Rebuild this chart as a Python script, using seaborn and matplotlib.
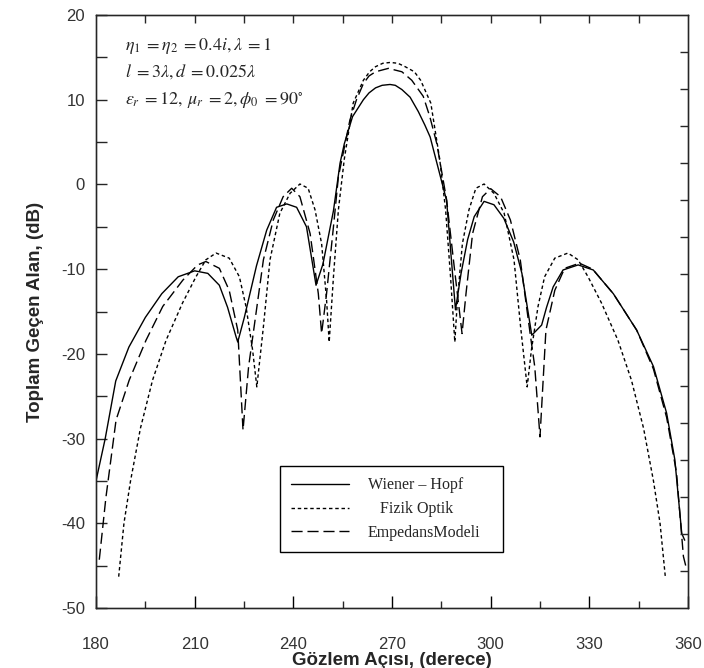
import numpy as np
import pandas as pd
import matplotlib
matplotlib.use("Agg")
import matplotlib.pyplot as plt
import seaborn as sns

# ---- data ----
wh_x = [180.0, 182.8, 186.0, 190.0, 195.0, 200.0, 205.0, 210.0, 214.0, 217.5, 220.0, 222.6, 223.1,
        225.1, 228.8, 231.9, 234.9, 238.0, 241.0, 244.0, 246.9, 249.0, 252.2, 254.2, 255.5, 258.0,
        261.3, 263.0, 265.0, 267.0, 269.4, 271.0, 273.0, 275.5, 278.0, 280.0, 281.6, 284.0, 286.6,
        289.3, 291.0, 293.0, 295.0,
        298.0, 301.0, 304.0, 307.0, 309.5, 312.5, 315.5, 317.0, 319.0, 322.0, 326.6, 331.2, 337.3,
        344.4, 349.5, 353.5, 356.0, 358.1, 359.0]
wh_y = [-35.0, -30.0, -23.2, -19.2, -15.7, -12.9, -10.9, -10.2, -10.5, -11.9, -14.5, -18.0, -18.6,
        -15.7, -9.6, -5.4, -2.7, -2.3, -2.7, -5.0, -11.9, -9.4, -3.1, 2.5, 4.8, 8.0,
        10.0, 10.8, 11.4, 11.7, 11.8, 11.7, 11.2, 10.3, 8.6, 7.0, 5.6, 2.0, -1.9,
        -14.8, -10.5, -6.5, -3.8,
        -2.0, -2.4, -4.0, -6.8, -10.5, -17.8, -16.6, -14.5, -12.1, -10.1, -9.5, -10.1, -12.9,
        -17.2, -21.5, -27.0, -32.5, -41.2, -42.0]

fo_x = [186.9, 188.5, 190.5, 193.5, 197.2, 201.3, 206.3, 210.4, 213.4, 216.5, 220.5, 223.6, 225.6,
        227.6, 228.9, 230.9, 232.9, 235.9, 239.0, 242.0, 244.5, 246.6, 248.6, 250.1, 250.9, 252.2,
        253.7, 255.5, 258.2, 261.3, 263.2, 265.0, 267.2, 269.5, 271.8, 274.0, 276.8, 278.7, 281.8,
        284.5, 286.3, 287.8, 289.1,
        289.9, 291.4, 293.4, 295.5, 298.0, 301.0, 304.1, 307.1, 309.1, 311.1, 312.4, 314.4, 316.4,
        319.5, 323.5, 326.6, 329.6, 333.7, 338.7, 342.8, 346.5, 349.5, 351.5, 353.1]
fo_y = [-46.3, -40.0, -35.0, -28.8, -23.1, -18.4, -14.0, -10.9, -8.9, -8.1, -8.7, -10.9, -14.4,
        -19.5, -23.9, -16.8, -8.9, -3.4, -1.05, 0.05, -0.45, -3.0, -7.0, -13.6, -18.6, -10.9,
        -3.0, 3.0, 9.6, 12.3, 13.3, 13.9, 14.3, 14.4, 14.3, 13.9, 13.3, 12.3, 9.6,
        3.0, -3.0, -10.9, -18.6,
        -13.6, -7.0, -3.0, -0.45, 0.05, -1.05, -3.4, -8.9, -16.8, -23.9, -19.5, -14.4, -10.9,
        -8.7, -8.1, -8.9, -10.9, -14.0, -18.4, -23.1, -28.8, -35.0, -40.0, -46.3]

em_x = [181.0, 183.0, 186.1, 190.1, 195.2, 200.3, 206.4, 210.9, 213.4, 217.5, 220.5, 223.1, 224.7,
        226.4, 227.8, 230.9, 233.9, 236.9, 239.5, 242.0, 245.1, 247.6, 248.6, 250.1, 252.2, 253.7,
        257.2, 259.2, 261.3, 263.0, 265.0, 268.9, 273.0, 276.0, 279.5, 281.5, 283.6, 286.6,
        289.0, 291.3, 292.5, 294.5, 297.5,
        300.0, 303.0, 306.0, 309.0, 312.0, 313.4, 315.0, 316.8, 319.5, 322.5, 327.0, 331.0, 337.3,
        344.4, 349.5, 353.5, 356.5, 358.6, 359.3]
em_y = [-44.3, -37.0, -27.8, -23.1, -18.4, -14.4, -11.3, -9.5, -9.1, -9.9, -12.5, -17.2, -29.0,
        -21.5, -17.6, -8.9, -4.2, -1.45, -0.45, -1.45, -5.8, -12.9, -17.6, -12.9, -5.0, 0.9,
        7.6, 10.0, 11.9, 12.8, 13.3, 13.7, 13.3, 12.3, 10.4, 8.0, 4.85, -1.8,
        -10.0, -17.6, -12.9, -5.8, -1.45,
        -0.5, -1.45, -4.2, -8.9, -17.6, -21.5, -29.8, -17.2, -12.5, -9.9, -9.3, -10.0, -12.9,
        -17.2, -21.8, -27.5, -34.0, -43.9, -45.0]

series_names = ["Wiener \u2013 Hopf", "   Fizik Optik", "EmpedansModeli"]
x_ticks = [180, 210, 240, 270, 300, 330, 360]
y_ticks = [-50, -40, -30, -20, -10, 0, 10, 20]

sns.set_style("ticks")
plt.rcParams["font.family"] = ["Liberation Sans", "DejaVu Sans"]
plt.rcParams["mathtext.fontset"] = "stix"
plt.rcParams["axes.unicode_minus"] = False

df = pd.concat([
    pd.DataFrame({"x": wh_x, "y": wh_y, "s": series_names[0]}),
    pd.DataFrame({"x": fo_x, "y": fo_y, "s": series_names[1]}),
    pd.DataFrame({"x": em_x, "y": em_y, "s": series_names[2]}),
])

fig = plt.figure(figsize=(7.04, 6.68), dpi=100)
ax = fig.add_axes([96/704, 1-608/668, 592/704, 593/668])

styles = {series_names[0]: "-", series_names[1]: (0, (2.5, 2)), series_names[2]: (0, (8, 3.5))}
for name in series_names:
    sub = df[df["s"] == name]
    sns.lineplot(data=sub, x="x", y="y", ax=ax, color="black", lw=1.0, label=name,
                 linestyle=styles[name], sort=False, estimator=None)

ax.set_xlim(180, 360)
ax.set_ylim(-50, 20)
ax.set_xticks(x_ticks)
ax.set_yticks(y_ticks)
ax.set_xticks(np.arange(195, 360, 30), minor=True)
ax.set_yticks(np.arange(-45, 20, 10), minor=True)
ax.tick_params(axis="x", which="major", direction="in", length=9, width=1, top=False,
               labelsize=12, pad=21, colors="black", labelcolor="#333333")
ax.tick_params(axis="x", which="minor", direction="in", length=5, width=1, top=False)
ax.tick_params(axis="y", which="both", direction="in", length=8, width=1, right=False,
               labelsize=12, pad=8, labelcolor="#333333")
for sp in ax.spines.values():
    sp.set_linewidth(1.0)
    sp.set_color("black")

# top ticks every 15 deg, right ticks in 16 equal steps
axt = ax.twiny()
axt.set_xlim(180, 360)
axt.set_xticks(np.arange(195, 360, 15))
axt.tick_params(axis="x", direction="in", length=6, width=1, labeltop=False)
axr = ax.twinx()
axr.set_ylim(-50, 20)
axr.set_yticks(np.linspace(-50, 20, 17)[1:-1])
axr.tick_params(axis="y", direction="in", length=6, width=1, labelright=False)

ax.set_xlabel("G\u00f6zlem A\u00e7\u0131s\u0131, (derece)", fontsize=13.5, fontweight="bold", labelpad=0)
ax.set_ylabel("Toplam Ge\u00e7en Alan, (dB)", fontsize=13.5, fontweight="bold", labelpad=12)

txt_kw = dict(transform=ax.transAxes, fontsize=13, va="baseline")
ax.text((125-96)/592, (608-50)/593, r"$\eta_1\;=\eta_2\;=0.4i,\lambda\;=1$", **txt_kw)
ax.text((125-96)/592, (608-77)/593, r"$l\;=3\lambda,d\;=0.025\lambda$", **txt_kw)
ax.text((125-96)/592, (608-104)/593, r"$\varepsilon_r\;=12,\,\mu_r\;=2,\phi_0\;=90^{\circ}$", **txt_kw)

leg = ax.legend(loc="lower left", bbox_to_anchor=(0.311, 0.094, 0.376, 0.142), mode="expand",
                borderaxespad=0, frameon=True, fancybox=False, framealpha=1, edgecolor="black",
                handlelength=3.6, handletextpad=1.2, borderpad=0.7, labelspacing=0.5,
                prop={"family": "Liberation Serif", "size": 11.5})
leg.get_frame().set_linewidth(1.0)

fig.savefig("out.png", dpi=100)
